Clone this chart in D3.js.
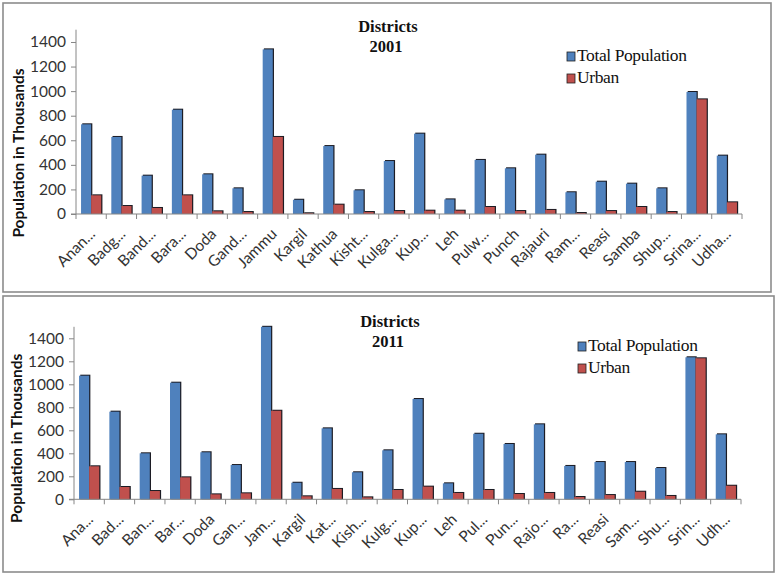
<!DOCTYPE html>
<html>
<head>
<meta charset="utf-8">
<script src="https://cdn.jsdelivr.net/npm/d3@7"></script>
<style>
  body { margin: 0; background: #fff; }
  svg { display: block; }
</style>
</head>
<body>
<svg id="chart" width="776" height="575"></svg>
<script>
// labels as they appear (truncated) in each panel
const labels2001 = ['Anan...','Badg...','Band...','Bara...','Doda','Gand...','Jammu','Kargil','Kathua','Kisht...','Kulga...',
  'Kup...','Leh','Pulw...','Punch','Rajauri','Ram...','Reasi','Samba','Shup...','Srina...','Udha...'];
const labels2011 = ['Ana...','Bad...','Ban...','Bar...','Doda','Gan...','Jam...','Kargil','Kat...','Kish...','Kulg...',
  'Kup...','Leh','Pul...','Pun...','Rajo...','Ra...','Reasi','Sam...','Shu...','Srin...','Udh...'];

// population in thousands
const total2001 = [730,627,312,849,323,209,1340,116,553,193,431,654,119,440,372,483,177,263,247,209,993,475];
const urban2001 = [152,65,49,152,22,16,627,6,76,16,24,27,27,57,24,33,8,24,57,16,933,95];
const total2011 = [1075,762,400,1014,409,298,1530,144,617,235,426,872,139,570,481,652,290,324,324,272,1235,565];
const urban2011 = [287,107,72,191,43,52,770,26,90,17,81,110,55,81,46,55,20,37,66,29,1226,118];

const yTicks = [0,200,400,600,800,1000,1200,1400];
const seriesNames = ['Total Population','Urban'];
const colors = ['#4F81BD','#C0504D'];

const svg = d3.select('#chart');

function panel(p) {
  const g = svg.append('g');

  // frame
  g.append('rect')
    .attr('x', p.box[0]).attr('y', p.box[1])
    .attr('width', p.box[2]).attr('height', p.box[3])
    .attr('fill', '#fff').attr('stroke', '#8c8c8c').attr('stroke-width', 1.6);

  const x = d3.scaleBand().domain(d3.range(p.labels.length)).range([p.left, p.right]);
  const x1 = d3.scaleBand().domain([0,1]).range([0, x.bandwidth()]).paddingOuter(0.5).paddingInner(0);
  const y = d3.scaleLinear().domain([0,1500]).range([p.base, p.top]).clamp(true);

  const data = p.labels.map((l,i) => [p.total[i], p.urban[i]]);

  const groups = g.selectAll('g.cat').data(data).enter().append('g')
    .attr('transform', (d,i) => `translate(${x(i)},0)`);

  // shadow
  groups.selectAll('rect.sh').data(d => d).enter().append('rect')
    .attr('x', (d,j) => x1(j) + 1.2)
    .attr('y', d => y(d) - 1)
    .attr('width', x1.bandwidth())
    .attr('height', d => p.base - y(d) + 1)
    .attr('fill', '#1c1c24');

  groups.selectAll('rect.bar').data(d => d).enter().append('rect')
    .attr('x', (d,j) => x1(j))
    .attr('y', d => y(d))
    .attr('width', x1.bandwidth())
    .attr('height', d => p.base - y(d))
    .attr('fill', (d,j) => colors[j]);

  // y axis
  const ya = g.append('g').attr('transform', `translate(${p.left},0)`)
    .call(d3.axisLeft(y).tickValues(yTicks).tickFormat(d3.format('d')).tickSize(5).tickPadding(5));
  ya.select('.domain').attr('stroke', '#868686').attr('d', `M-5,${p.base}H0V${y(1500)}`);
  ya.selectAll('.tick line').attr('stroke', '#868686');
  ya.selectAll('.tick text').attr('font-family', 'Lato').attr('font-size', 15.5).attr('fill', '#333');

  // x axis
  const xa = g.append('g').attr('transform', `translate(0,${p.base})`);
  xa.append('line').attr('x1', p.left).attr('x2', p.right).attr('stroke', '#868686');
  xa.selectAll('line.t').data(d3.range(p.labels.length + 1)).enter().append('line')
    .attr('x1', i => p.left + i * x.step()).attr('x2', i => p.left + i * x.step())
    .attr('y1', 0).attr('y2', 5).attr('stroke', '#868686');
  xa.selectAll('text').data(p.labels).enter().append('text')
    .attr('transform', (d,i) => `translate(${x(i) + x.bandwidth()/2 + 5},${21}) rotate(-45)`)
    .attr('text-anchor', 'end')
    .attr('font-family', 'Lato').attr('font-size', 15.5).attr('fill', '#333')
    .text(d => d);

  // y title
  g.append('text')
    .attr('transform', `translate(${p.left - 52},${p.base - 61}) rotate(-90)`)
    .attr('text-anchor', 'middle')
    .attr('font-family', 'Lato').attr('font-weight', 'bold').attr('font-size', 15.5).attr('fill', '#111')
    .text('Population in Thousands');

  // title
  const t = g.append('text').attr('text-anchor', 'middle')
    .attr('font-family', 'Liberation Serif').attr('font-weight', 'bold').attr('font-size', 16.5).attr('fill', '#111');
  t.append('tspan').attr('x', p.titleX).attr('y', p.titleY).text('Districts');
  t.append('tspan').attr('x', p.titleX - 2).attr('y', p.titleY + 20).text(p.year);

  // legend
  const lg = g.append('g').attr('transform', `translate(${p.legend[0]},${p.legend[1]})`);
  seriesNames.forEach((s,i) => {
    lg.append('rect').attr('x', 0).attr('y', i * 22 - 9).attr('width', 8).attr('height', 9)
      .attr('fill', colors[i]).attr('stroke', '#222').attr('stroke-width', 0.8);
    lg.append('text').attr('x', 10).attr('y', i * 22)
      .attr('font-family', 'Liberation Serif').attr('font-size', 17.5).attr('fill', '#111')
      .attr('letter-spacing', -0.4)
      .text(s);
  });
}

panel({ box:[3,3,768,289], labels:labels2001, total:total2001, urban:urban2001,
  left:76, right:742, base:214, top:29.7, year:'2001', titleX:388, titleY:32, legend:[567,61] });
panel({ box:[3,296,771,276], labels:labels2011, total:total2011, urban:urban2011,
  left:74, right:741, base:499.3, top:326.8, year:'2011', titleX:390, titleY:327, legend:[578,351] });
</script>
</body>
</html>
